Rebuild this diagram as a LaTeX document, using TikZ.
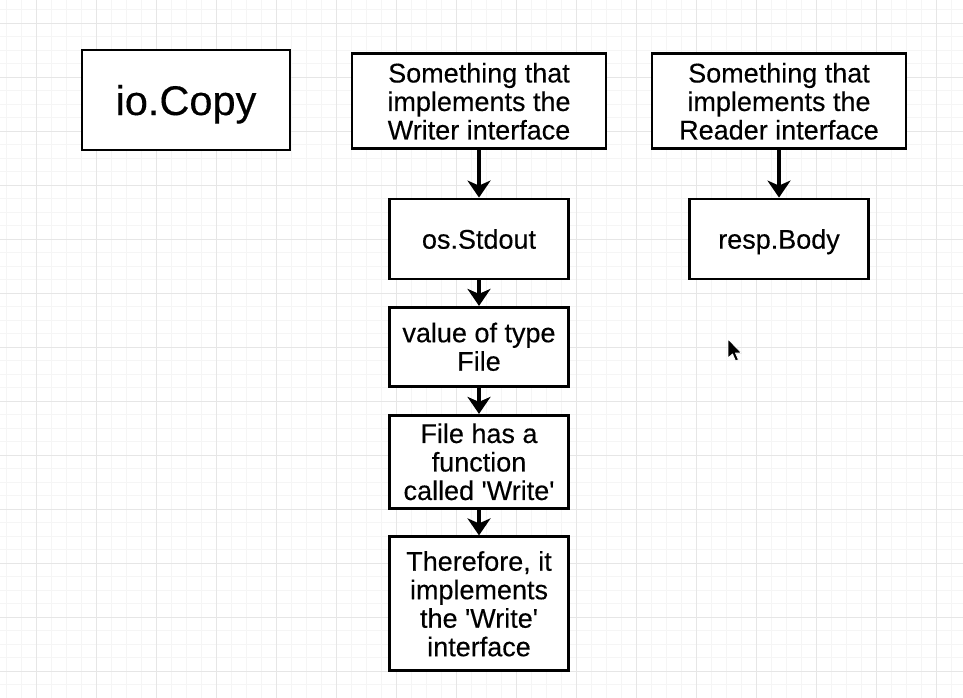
\documentclass[tikz,border=0pt]{standalone}
\usepackage{fontspec}
\setmainfont{Liberation Sans}[UprightFeatures={FakeBold=0.3}]
\usetikzlibrary{arrows.meta}
\definecolor{gridminor}{HTML}{F5F5F5}
\definecolor{gridmajor}{HTML}{E6E6E6}
\begin{document}
\begin{tikzpicture}[x=1pt,y=-1pt,
  minorline/.style={draw=gridminor,line width=1pt},
  majorline/.style={draw=gridmajor,line width=1pt},
  box/.style={draw=black,line width=2.6pt,fill=white,align=center,inner sep=0pt,
    text depth=0pt,font=\fontsize{27}{28.5}\selectfont},
  flow/.style={line width=4pt,-{Stealth[length=17pt,width=23pt,inset=5pt]}}]
\useasboundingbox (0,0) rectangle (963,698);
\fill[white] (0,0) rectangle (963,698);
% grid
\foreach \i in {0,...,63} {\draw[minorline] ({6.7+15*\i},0) -- ++(0,698);}
\foreach \i in {0,...,51} {\draw[minorline] (0,{9.8+13.5*\i}) -- ++(963,0);}
\foreach \i in {0,...,15} {\draw[majorline] ({36.7+60*\i},0) -- ++(0,698);}
\foreach \i in {0,...,12} {\draw[majorline] (0,{23.3+54*\i}) -- ++(963,0);}
% nodes
\node[box,minimum width=208pt,minimum height=100pt,font=\fontsize{41.5}{44}\selectfont] (copy) at (186,100) {io.Copy};
\node[box,minimum width=254pt,minimum height=95pt] (writer) at (479,101.2) {Something that\\implements the\\Writer interface};
\node[box,minimum width=179pt,minimum height=80pt] (stdout) at (479,238.9) {os.Stdout};
\node[box,minimum width=179pt,minimum height=79pt] (valuef) at (479,346.7) {value of type\\File};
\node[box,minimum width=179pt,minimum height=93pt] (filehas) at (479,461.7) {File has a\\function\\called \textquotesingle Write\textquotesingle};
\node[box,minimum width=179pt,minimum height=134pt] (therefore) at (479,603.7) {Therefore, it\\implements\\the \textquotesingle Write\textquotesingle\\interface};
\node[box,minimum width=254pt,minimum height=95pt] (reader) at (779,101.2) {Something that\\implements the\\Reader interface};
\node[box,minimum width=179pt,minimum height=80pt] (body) at (779,238.9) {resp.Body};
% connectors
\draw[flow] (writer) -- (stdout);
\draw[flow] (stdout) -- (valuef);
\draw[flow] (valuef) -- (filehas);
\draw[flow] (filehas) -- (therefore);
\draw[flow] (reader) -- (body);
% mouse pointer
\filldraw[fill=black,draw=white,line width=0.8pt,line join=round]
  (728,339) -- (728,358) -- (732.5,354) -- (735.5,361) -- (738.5,359.8) -- (735.5,353) -- (741.5,353) -- cycle;
\end{tikzpicture}
\end{document}
